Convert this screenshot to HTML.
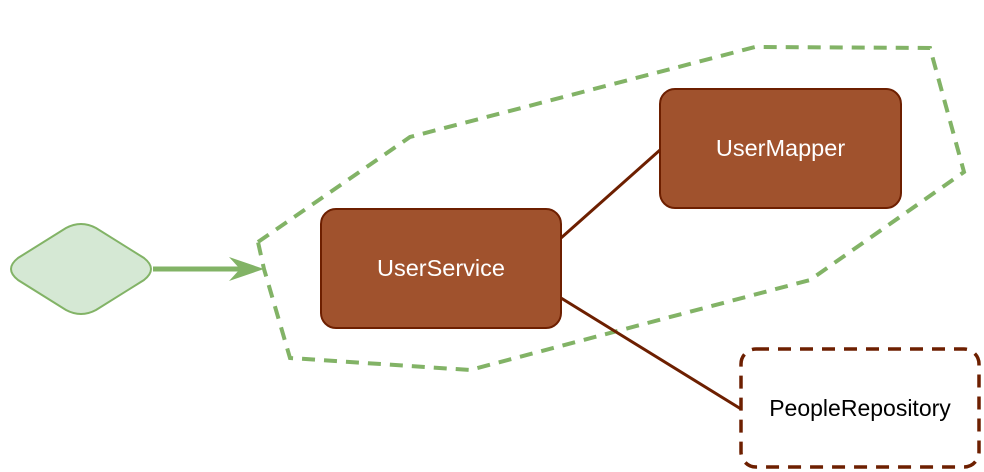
<!DOCTYPE html>
<html><head><style>body{margin:0;background:#fff}svg{display:block}</style></head><body>
<svg width="984" height="472" viewBox="0 0 984 472" xmlns="http://www.w3.org/2000/svg" font-family="Liberation Sans, Arial, sans-serif">
<polygon points="258,242 410,137 755,47 930,48 964,172 810,280 470,370 290,358 264,269" fill="none" stroke="#82b366" stroke-width="4" stroke-dasharray="13,9"/>
<path d="M66,228 Q81,220 96,228 L144,258 Q158,269 144,280 L96,310 Q81,318 66,310 L18,280 Q4,269 18,258 Z" fill="#d5e8d4" stroke="#82b366" stroke-width="2"/>
<line x1="153" y1="269" x2="240" y2="269" stroke="#82b366" stroke-width="5"/>
<polygon points="264,269 229,257 240,269 229,281" fill="#82b366"/>
<line x1="561" y1="238" x2="660" y2="150" stroke="#6d1f00" stroke-width="3"/>
<line x1="561" y1="298" x2="741" y2="409" stroke="#6d1f00" stroke-width="3"/>
<rect x="321" y="209" width="240" height="119" rx="15" fill="#a0522d" stroke="#6d1f00" stroke-width="2"/>
<text x="441" y="276" text-anchor="middle" fill="#fff" font-size="23.5">UserService</text>
<rect x="660" y="89" width="241" height="119" rx="15" fill="#a0522d" stroke="#6d1f00" stroke-width="2"/>
<text x="780.5" y="156" text-anchor="middle" fill="#fff" font-size="23.5">UserMapper</text>
<rect x="741" y="349" width="238" height="118" rx="15" fill="#fff" stroke="#6d1f00" stroke-width="3.5" stroke-dasharray="13,9"/>
<text x="860" y="416" text-anchor="middle" fill="#000" font-size="23">PeopleRepository</text>
</svg>
</body></html>
